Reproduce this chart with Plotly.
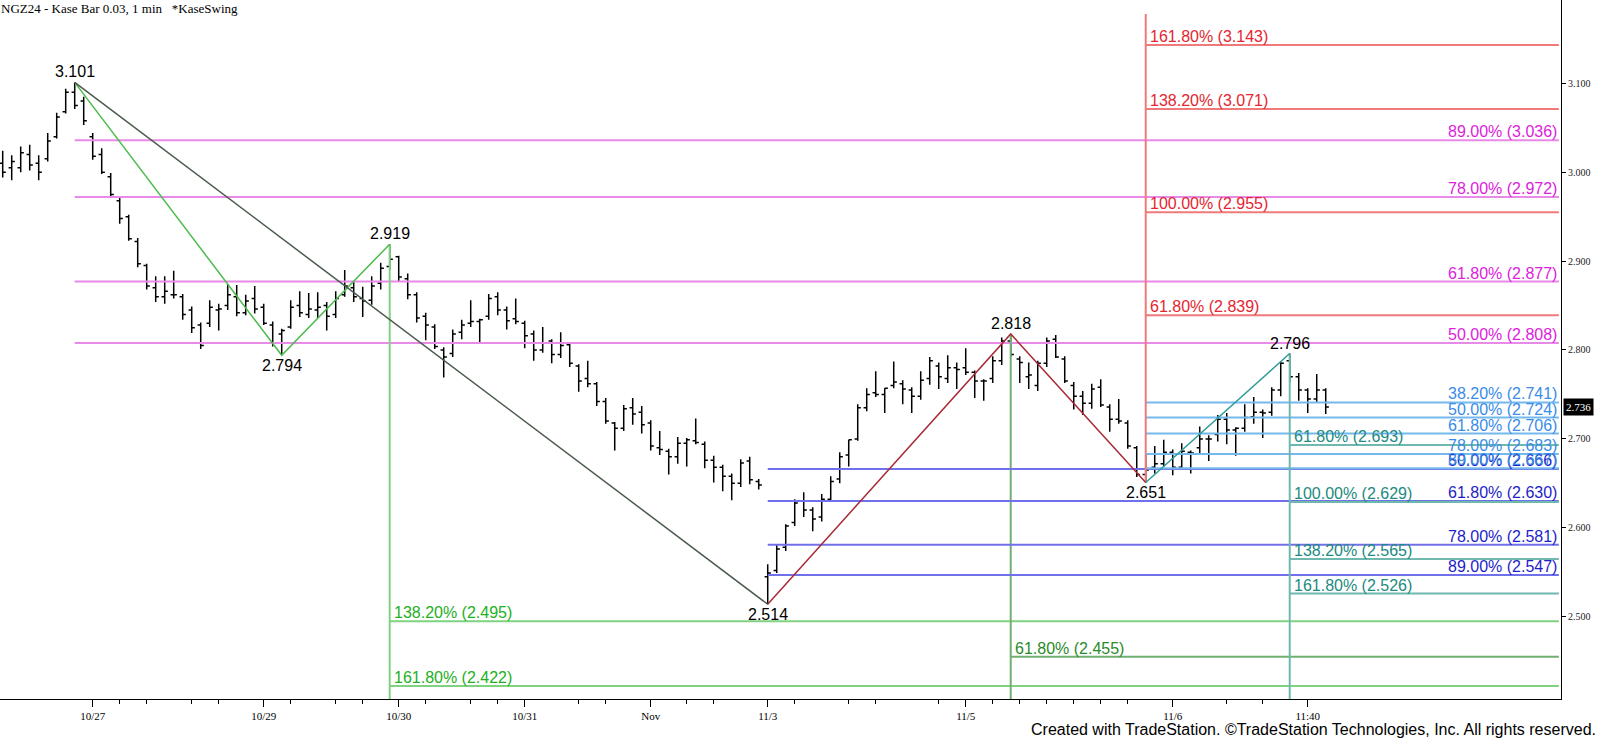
import plotly.graph_objects as go

# ---------------- data ----------------
bar_index = list(range(148))

highs = [3.024, 3.019, 3.029, 3.031, 3.019, 3.044, 3.067, 3.094, 3.101, 3.085,
         3.044, 3.027, 2.999, 2.972, 2.952, 2.926, 2.897, 2.883, 2.883, 2.889,
         2.863, 2.849, 2.831, 2.856, 2.852, 2.874, 2.873, 2.862, 2.872, 2.852,
         2.832, 2.824, 2.856, 2.866, 2.864, 2.865, 2.854, 2.866, 2.890, 2.877,
         2.871, 2.883, 2.898, 2.919, 2.906, 2.886, 2.865, 2.842, 2.829, 2.803,
         2.823, 2.834, 2.856, 2.835, 2.863, 2.865, 2.849, 2.858, 2.833, 2.822,
         2.826, 2.812, 2.820, 2.808, 2.784, 2.788, 2.764, 2.746, 2.719, 2.738,
         2.746, 2.737, 2.721, 2.709, 2.689, 2.702, 2.701, 2.723, 2.697, 2.681,
         2.671, 2.661, 2.677, 2.680, 2.655, 2.559, 2.581, 2.604, 2.632, 2.640,
         2.623, 2.638, 2.658, 2.685, 2.699, 2.739, 2.757, 2.776, 2.757, 2.787,
         2.766, 2.758, 2.776, 2.792, 2.786, 2.794, 2.786, 2.802, 2.777, 2.767,
         2.793, 2.814, 2.818, 2.793, 2.786, 2.788, 2.814, 2.817, 2.793, 2.764,
         2.754, 2.762, 2.767, 2.739, 2.745, 2.721, 2.692, 2.682, 2.692, 2.699,
         2.688, 2.695, 2.687, 2.714, 2.704, 2.727, 2.729, 2.713, 2.739, 2.747,
         2.733, 2.758, 2.787, 2.796, 2.774, 2.757, 2.773, 2.757]

lows = [2.994, 2.991, 3.000, 3.002, 2.991, 3.012, 3.038, 3.066, 3.071, 3.053,
        3.014, 2.998, 2.971, 2.942, 2.923, 2.893, 2.868, 2.854, 2.852, 2.858,
        2.834, 2.819, 2.801, 2.826, 2.822, 2.845, 2.838, 2.839, 2.841, 2.828,
        2.804, 2.794, 2.824, 2.837, 2.836, 2.836, 2.822, 2.836, 2.860, 2.854,
        2.837, 2.851, 2.868, 2.890, 2.877, 2.857, 2.831, 2.811, 2.801, 2.769,
        2.792, 2.812, 2.826, 2.808, 2.834, 2.839, 2.823, 2.829, 2.802, 2.788,
        2.797, 2.785, 2.791, 2.781, 2.753, 2.758, 2.737, 2.717, 2.687, 2.709,
        2.716, 2.706, 2.687, 2.682, 2.660, 2.672, 2.669, 2.694, 2.667, 2.651,
        2.641, 2.631, 2.646, 2.649, 2.643, 2.514, 2.549, 2.574, 2.602, 2.612,
        2.596, 2.607, 2.629, 2.650, 2.669, 2.698, 2.731, 2.747, 2.729, 2.757,
        2.739, 2.729, 2.744, 2.761, 2.756, 2.763, 2.756, 2.772, 2.746, 2.743,
        2.763, 2.783, 2.792, 2.763, 2.756, 2.754, 2.781, 2.791, 2.763, 2.733,
        2.727, 2.734, 2.736, 2.708, 2.717, 2.689, 2.657, 2.651, 2.661, 2.669,
        2.659, 2.665, 2.661, 2.684, 2.675, 2.697, 2.694, 2.681, 2.708, 2.717,
        2.701, 2.726, 2.748, 2.764, 2.743, 2.729, 2.741, 2.728]

opens = [3.010, 3.005, 3.005, 3.020, 3.010, 3.015, 3.040, 3.068, 3.090, 3.080,
         3.040, 3.020, 2.995, 2.968, 2.950, 2.922, 2.895, 2.870, 2.860, 2.862,
         2.860, 2.845, 2.828, 2.830, 2.845, 2.850, 2.860, 2.842, 2.858, 2.848,
         2.828, 2.818, 2.826, 2.850, 2.840, 2.845, 2.850, 2.840, 2.862, 2.870,
         2.858, 2.856, 2.875, 2.894, 2.905, 2.880, 2.862, 2.838, 2.826, 2.800,
         2.796, 2.820, 2.830, 2.832, 2.838, 2.860, 2.845, 2.835, 2.830, 2.818,
         2.800, 2.810, 2.795, 2.806, 2.782, 2.768, 2.762, 2.742, 2.718, 2.712,
         2.735, 2.730, 2.718, 2.690, 2.686, 2.680, 2.695, 2.698, 2.694, 2.676,
         2.668, 2.658, 2.650, 2.675, 2.652, 2.545, 2.552, 2.578, 2.606, 2.630,
         2.620, 2.612, 2.632, 2.655, 2.682, 2.700, 2.735, 2.752, 2.750, 2.760,
         2.762, 2.755, 2.748, 2.768, 2.782, 2.768, 2.780, 2.780, 2.775, 2.765,
         2.768, 2.788, 2.810, 2.790, 2.770, 2.760, 2.785, 2.812, 2.790, 2.760,
         2.748, 2.740, 2.758, 2.736, 2.722, 2.718, 2.690, 2.660, 2.668, 2.672,
         2.685, 2.668, 2.685, 2.690, 2.700, 2.705, 2.722, 2.710, 2.712, 2.725,
         2.730, 2.730, 2.755, 2.788, 2.770, 2.755, 2.745, 2.755]

closes = [3.000, 3.012, 3.022, 3.008, 3.000, 3.035, 3.062, 3.090, 3.075, 3.058,
          3.018, 3.000, 2.975, 2.948, 2.925, 2.897, 2.872, 2.860, 2.866, 2.862,
          2.840, 2.825, 2.805, 2.848, 2.846, 2.862, 2.842, 2.855, 2.846, 2.830,
          2.808, 2.822, 2.848, 2.842, 2.846, 2.848, 2.838, 2.858, 2.872, 2.860,
          2.855, 2.872, 2.892, 2.902, 2.882, 2.862, 2.836, 2.828, 2.804, 2.792,
          2.818, 2.828, 2.832, 2.834, 2.858, 2.845, 2.833, 2.832, 2.816, 2.800,
          2.808, 2.795, 2.805, 2.785, 2.765, 2.762, 2.742, 2.720, 2.712, 2.734,
          2.728, 2.716, 2.692, 2.688, 2.680, 2.695, 2.699, 2.696, 2.676, 2.668,
          2.658, 2.650, 2.673, 2.654, 2.648, 2.549, 2.576, 2.602, 2.628, 2.620,
          2.610, 2.632, 2.652, 2.680, 2.699, 2.735, 2.750, 2.750, 2.757, 2.764,
          2.756, 2.748, 2.766, 2.788, 2.770, 2.780, 2.778, 2.775, 2.765, 2.765,
          2.788, 2.810, 2.795, 2.786, 2.772, 2.785, 2.810, 2.792, 2.765, 2.748,
          2.740, 2.756, 2.738, 2.722, 2.720, 2.692, 2.660, 2.665, 2.672, 2.685,
          2.668, 2.686, 2.684, 2.700, 2.700, 2.722, 2.710, 2.712, 2.724, 2.730,
          2.729, 2.755, 2.785, 2.770, 2.755, 2.745, 2.755, 2.736]

last_price = 2.736

x_tick_pos = [10, 29, 44, 58, 72, 85, 107, 130, 145]
x_tick_text = ["10/27", "10/29", "10/30", "10/31", "Nov", "11/3", "11/5", "11/6", "11:40"]
x_minor_pos = [13, 16, 21, 24, 32, 37, 40, 47, 52, 55, 64, 67, 76, 79, 88, 94,
               97, 104, 110, 113, 116, 119, 122, 125, 136, 140]
y_tick_vals = [2.5, 2.6, 2.7, 2.8, 2.9, 3.0, 3.1]
y_tick_text = ["2.500", "2.600", "2.700", "2.800", "2.900", "3.000", "3.100"]

# swing pivots
swing_x = [8, 31, 43, 85, 112, 127, 143]
swing_y = [3.101, 2.794, 2.919, 2.514, 2.818, 2.651, 2.796]
swing_side = ["above", "below", "above", "below", "above", "below", "above"]

# zigzag swing lines
zz_green_x, zz_green_y = [8, 31, 43], [3.101, 2.794, 2.919]
zz_gray_x, zz_gray_y = [8, 85], [3.101, 2.514]
zz_red_x, zz_red_y = [85, 112, 127], [2.514, 2.818, 2.651]
zz_teal_x, zz_teal_y = [127, 143], [2.651, 2.796]

# fibonacci groups
mag_start = 8
mag_pct = ["89.00%", "78.00%", "61.80%", "50.00%"]
mag_val = [3.036, 2.972, 2.877, 2.808]

red_start = 127
red_pct = ["161.80%", "138.20%", "100.00%", "61.80%"]
red_val = [3.143, 3.071, 2.955, 2.839]

grn_start = 43
grn_pct = ["138.20%", "161.80%"]
grn_val = [2.495, 2.422]

dgr_start = 112
dgr_pct = ["61.80%"]
dgr_val = [2.455]

teal_start = 143
teal_pct = ["61.80%", "100.00%", "138.20%", "161.80%"]
teal_val = [2.693, 2.629, 2.565, 2.526]

lb_start = 127
lb_pct = ["38.20%", "50.00%", "61.80%", "78.00%", "89.00%"]
lb_val = [2.741, 2.724, 2.706, 2.683, 2.667]

blue_start = 85
blue_pct = ["50.00%", "61.80%", "78.00%", "89.00%"]
blue_val = [2.666, 2.630, 2.581, 2.547]

# ---------------- layout constants ----------------
Y_MIN, Y_MAX = 2.4074, 3.1937
X_MIN, X_MAX = -0.3, 173.14
LINE_END = 172.9
RED_TOP = 3.178
SANS = "Liberation Sans, Arial, sans-serif"
SERIF = "Liberation Serif, Times New Roman, serif"

fig = go.Figure()
annotations = []


def hline_group(start, pcts, vals, line_color, text_color, side, vline=None):
    for p, v in zip(pcts, vals):
        fig.add_trace(go.Scatter(x=[start, LINE_END], y=[v, v], mode="lines",
                                 line=dict(color=line_color, width=2),
                                 hoverinfo="skip", showlegend=False))
        if side == "right":
            annotations.append(dict(x=LINE_END, y=v, xref="x", yref="y",
                                    text=f"{p} ({v:.3f})", showarrow=False,
                                    xanchor="right", yanchor="bottom", yshift=-2,
                                    font=dict(family=SANS, size=16, color=text_color)))
        else:
            annotations.append(dict(x=start, y=v, xref="x", yref="y",
                                    text=f"{p} ({v:.3f})", showarrow=False,
                                    xanchor="left", yanchor="bottom", xshift=2, yshift=-2,
                                    font=dict(family=SANS, size=16, color=text_color)))
    if vline is not None:
        fig.add_trace(go.Scatter(x=[start, start], y=list(vline), mode="lines",
                                 line=dict(color=line_color, width=2),
                                 hoverinfo="skip", showlegend=False))


hline_group(mag_start, mag_pct, mag_val, "#E88AE8", "#DD22DD", "right")
hline_group(grn_start, grn_pct, grn_val, "#80D280", "#22B022", "left", (swing_y[2], Y_MIN))
hline_group(dgr_start, dgr_pct, dgr_val, "#6FB06F", "#2A8A2A", "left", (swing_y[4], Y_MIN))
hline_group(blue_start, blue_pct, blue_val, "#7070EA", "#1E1EC8", "right")
hline_group(lb_start, lb_pct, lb_val, "#74B8EC", "#3A8CE6", "right")
hline_group(red_start, red_pct, red_val, "#F07A7A", "#E52530", "left", (swing_y[5], RED_TOP))
hline_group(teal_start, teal_pct, teal_val, "#6FB8AE", "#218A80", "left", (swing_y[6], Y_MIN))

for zx, zy, col in [(zz_green_x, zz_green_y, "#4CBB4C"),
                    (zz_gray_x, zz_gray_y, "#4A5A4A"),
                    (zz_red_x, zz_red_y, "#A82A38"),
                    (zz_teal_x, zz_teal_y, "#2E9B9B")]:
    fig.add_trace(go.Scatter(x=zx, y=zy, mode="lines", line=dict(color=col, width=1.5),
                             hoverinfo="skip", showlegend=False))

fig.add_trace(go.Ohlc(x=bar_index, open=opens, high=highs, low=lows, close=closes,
                      increasing=dict(line=dict(color="black", width=1.5)),
                      decreasing=dict(line=dict(color="black", width=1.5)),
                      tickwidth=0.35, showlegend=False, hoverinfo="skip"))

for sx, sy, side in zip(swing_x, swing_y, swing_side):
    annotations.append(dict(x=sx, y=sy, xref="x", yref="y", text=f"{sy:.3f}",
                            showarrow=False, xanchor="center",
                            yanchor="bottom" if side == "above" else "top",
                            yshift=0,
                            font=dict(family=SANS, size=16, color="black")))

# price tag
annotations.append(dict(x=1, y=last_price, xref="paper", yref="y", text=f"{last_price:.3f}",
                        showarrow=False, xanchor="left", yanchor="middle", xshift=2,
                        bgcolor="black", borderpad=2,
                        font=dict(family=SERIF, size=11, color="white")))
# title
annotations.append(dict(x=0, y=1, xref="paper", yref="paper",
                        text="NGZ24 - Kase Bar 0.03, 1 min\u00a0\u00a0 *KaseSwing",
                        showarrow=False, xanchor="left", yanchor="top", xshift=-1, yshift=1,
                        font=dict(family=SERIF, size=13, color="black")))
# footer
annotations.append(dict(x=1598 / 1561, y=0, xref="paper", yref="paper",
                        text="Created with TradeStation. \u00a9TradeStation Technologies, Inc. All rights reserved.",
                        showarrow=False, xanchor="right", yanchor="middle", yshift=-30,
                        font=dict(family=SANS, size=16, color="black")))

fig.update_layout(
    width=1600, height=739,
    margin=dict(l=0, r=39, t=0, b=40),
    paper_bgcolor="white", plot_bgcolor="white",
    showlegend=False,
    annotations=annotations,
    xaxis=dict(range=[X_MIN, X_MAX], rangeslider=dict(visible=False),
               showgrid=False, zeroline=False, showline=True, linecolor="black", linewidth=1,
               tickmode="array", tickvals=x_tick_pos, ticktext=x_tick_text,
               ticks="outside", ticklen=7, tickcolor="black", tickwidth=1,
               tickfont=dict(family=SERIF, size=11, color="black"),
               minor=dict(tickmode="array", tickvals=x_minor_pos, ticks="outside",
                          ticklen=4, tickcolor="black", showgrid=False),
               fixedrange=True),
    yaxis=dict(range=[Y_MIN, Y_MAX], side="right", showgrid=False, zeroline=False,
               showline=True, linecolor="black", linewidth=1,
               tickmode="array", tickvals=y_tick_vals, ticktext=y_tick_text,
               ticks="outside", ticklen=4, tickcolor="black",
               tickfont=dict(family=SERIF, size=10, color="#222222"),
               fixedrange=True),
)

fig.write_html("out.html", config={"displayModeBar": False},
               post_script="document.body.style.margin='0';document.body.style.overflow='hidden';")
